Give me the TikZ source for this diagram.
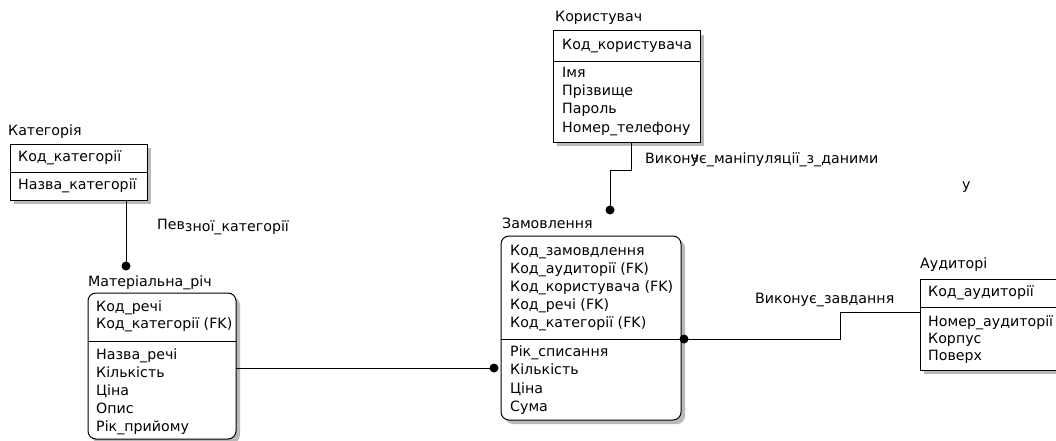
\documentclass[tikz,border=0pt]{standalone}
\usepackage{fontspec}
\setmainfont{DejaVu Sans}
\begin{document}
\begin{tikzpicture}[x=1pt,y=-1pt,
  ent/.style={draw, line width=1pt, fill=white, anchor=north west, inner sep=0pt, outer sep=0pt},
  shad/.style={fill=gray!55, draw=none, anchor=north west, inner sep=0pt, outer sep=0pt},
  rnd/.style={rounded corners=8pt},
  fld/.style={anchor=west, inner sep=0pt, text height=10.5pt, text depth=3pt, font=\fontsize{14.2}{16}\selectfont},
  rlabel/.style={anchor=west, inner sep=0pt, text height=10.5pt, text depth=3pt, font=\fontsize{14.2}{16}\selectfont},
  dv/.style={line width=1pt},
  rel/.style={line width=1pt},
  dot/.style={circle, fill=black, inner sep=0pt, minimum size=9pt}
]
\useasboundingbox (0,0) rectangle (1056,441);

% ---------- Категорія ----------
\node[shad, minimum width=137pt, minimum height=56pt] (catsh) at (14,148) {};
\node[ent, minimum width=137pt, minimum height=56pt] (cat) at (10,144) {};
\node[fld] (catt) at (8,132) {Категорія};
\draw[dv] ([yshift=-28pt]cat.north west) -- ([yshift=-28pt]cat.north east);
\node[fld] (cat1) at (18,158) {Код\_категорії};
\node[fld] (cat2) at (18,186) {Назва\_категорії};

% ---------- Матеріальна річ ----------
\node[shad, rnd, minimum width=148pt, minimum height=146pt] (matsh) at (92,297) {};
\node[ent, rnd, minimum width=148pt, minimum height=146pt] (mat) at (88,293) {};
\node[fld] (matt) at (88,283) {Матеріальна\_річ};
\draw[dv] ([yshift=-48pt]mat.north west) -- ([yshift=-48pt]mat.north east);
\node[fld] (mat1) at (96,308) {Код\_речі};
\node[fld] (mat2) at (96,325) {Код\_категорії (FK)};
\node[fld] (mat3) at (96,356) {Назва\_речі};
\node[fld] (mat4) at (96,374) {Кількість};
\node[fld] (mat5) at (96,392) {Ціна};
\node[fld] (mat6) at (96,410) {Опис};
\node[fld] (mat7) at (96,428) {Рік\_прийому};

% ---------- Замовлення ----------
\node[shad, rnd, minimum width=180pt, minimum height=184pt] (zamsh) at (505,240) {};
\node[ent, rnd, minimum width=180pt, minimum height=184pt] (zam) at (501,236) {};
\node[fld] (zamt) at (502,225) {Замовлення};
\draw[dv] ([yshift=-103pt]zam.north west) -- ([yshift=-103pt]zam.north east);
\node[fld] (zam1) at (510,252) {Код\_замовдлення};
\node[fld] (zam2) at (510,270) {Код\_аудиторії (FK)};
\node[fld] (zam3) at (510,288) {Код\_користувача (FK)};
\node[fld] (zam4) at (510,306) {Код\_речі (FK)};
\node[fld] (zam5) at (510,324) {Код\_категорії (FK)};
\node[fld] (zam6) at (510,353) {Рік\_списання};
\node[fld] (zam7) at (510,371) {Кількість};
\node[fld] (zam8) at (510,390) {Ціна};
\node[fld] (zam9) at (510,408) {Сума};

% ---------- Користувач ----------
\node[shad, minimum width=147pt, minimum height=111pt] (korsh) at (557,35) {};
\node[ent, minimum width=147pt, minimum height=111pt] (kor) at (553,31) {};
\node[fld] (kort) at (555,18) {Користувач};
\draw[dv] ([yshift=-31pt]kor.north west) -- ([yshift=-31pt]kor.north east);
\node[fld] (kor1) at (562,46) {Код\_користувача};
\node[fld] (kor2) at (562,74) {Імя};
\node[fld] (kor3) at (562,92) {Прізвище};
\node[fld] (kor4) at (562,110) {Пароль};
\node[fld] (kor5) at (562,129) {Номер\_телефону};

% ---------- Аудиторі ----------
\node[shad, minimum width=142pt, minimum height=91pt] (audsh) at (924,283) {};
\node[ent, minimum width=142pt, minimum height=91pt] (aud) at (920,279) {};
\node[fld] (audt) at (920,265) {Аудиторі};
\draw[dv] ([yshift=-28pt]aud.north west) -- ([yshift=-28pt]aud.north east);
\node[fld] (aud1) at (928,293) {Код\_аудиторії};
\node[fld] (aud2) at (928,323) {Номер\_аудиторії};
\node[fld] (aud3) at (928,340) {Корпус};
\node[fld] (aud4) at (928,357) {Поверх};

% ---------- Connectors ----------
% Категорія -> Матеріальна річ
\coordinate (c1) at (126,266);
\draw[rel] (cat.south -| c1) -- (c1);
\node[dot] (d1) at (c1) {};
\node[rlabel] (l1) at (157,226) {Пев\raisebox{-2pt}{зної\_категорії}};

% Матеріальна річ -> Замовлення
\coordinate (c2) at (494,368);
\draw[rel] (mat.east |- c2) -- (c2);
\node[dot] (d2) at (c2) {};

% Користувач -> Замовлення
\coordinate (c3a) at (631,170);
\coordinate (c3) at (610,210);
\draw[rel] (kor.south -| c3a) -- (c3a) -| (c3);
\node[dot] (d3) at (c3) {};
\node[rlabel] (l3) at (645,160) {Викон\rlap{\raisebox{1.5pt}{ч}}ує\_маніпуляції\_з\_даними};

% Замовлення -> Аудиторі
\coordinate (c4) at (684,339);
\coordinate (c4a) at (840,312);
\draw[rel] (c4) -| (c4a) -- (aud.west |- c4a);
\node[dot] (d4) at (c4) {};
\node[rlabel] (l4) at (755,300) {Виконує\_завдання};

\node[rlabel] (ly) at (962,186) {у};
\end{tikzpicture}
\end{document}
